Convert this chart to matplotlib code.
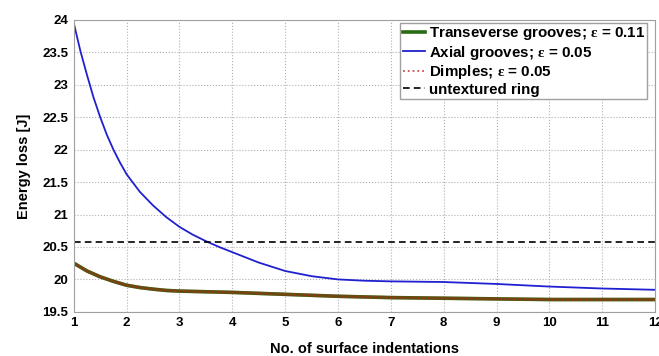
import numpy as np
import matplotlib.pyplot as plt

plt.rcParams['font.family'] = ['Liberation Sans', 'DejaVu Sans']
plt.rcParams['font.weight'] = 'bold'
plt.rcParams['mathtext.fontset'] = 'custom'
plt.rcParams['mathtext.rm'] = 'Liberation Serif'
plt.rcParams['mathtext.it'] = 'Liberation Serif'

# values
x_axial = [1, 1.125, 1.25, 1.375, 1.5, 1.625, 1.75, 1.875, 2, 2.25, 2.5, 2.75, 3, 3.25, 3.5, 3.75,
           4, 4.5, 5, 5.5, 6, 6.5, 7, 8, 9, 10, 11, 12]
e_axial = [23.95, 23.52, 23.15, 22.8, 22.5, 22.23, 22.0, 21.8, 21.62, 21.35, 21.14, 20.96, 20.81,
           20.69, 20.59, 20.50, 20.42, 20.26, 20.13, 20.05, 20.0, 19.98, 19.97, 19.96, 19.93,
           19.89, 19.86, 19.84]

x_trans = [1, 1.25, 1.5, 1.75, 2, 2.25, 2.5, 2.75, 3, 3.5, 4, 5, 6, 7, 8, 9, 10, 11, 12]
e_trans = [20.25, 20.13, 20.04, 19.97, 19.91, 19.875, 19.85, 19.83, 19.82, 19.81, 19.80, 19.77,
           19.74, 19.72, 19.71, 19.70, 19.69, 19.69, 19.69]
e_dimples = e_trans  # lies on top of the transverse curve
e_untextured = 20.58

fig = plt.figure(figsize=(6.59, 3.56), dpi=100)
ax = fig.add_axes([0.112, 0.124, 0.882, 0.82])

ax.plot(x_trans, e_trans, color='#2a6a12', lw=2.6,
        label='Transeverse grooves; $\\mathrm{\\varepsilon}$ = 0.11')
ax.plot(x_axial, e_axial, color='#2020d0', lw=1.3,
        label='Axial grooves; $\\mathrm{\\varepsilon}$ = 0.05')
ax.plot(x_trans, e_dimples, color='#c02020', lw=1.3, ls=':', alpha=0.8,
        label='Dimples; $\\mathrm{\\varepsilon}$ = 0.05')
ax.plot(x_trans, e_dimples, color='#a03010', lw=2.4, alpha=0.45)
ax.axhline(e_untextured, color='k', ls='--', lw=1.2, dashes=(4, 2.5), label='untextured ring')

ax.set_xlim(1, 12)
ax.set_ylim(19.5, 24)
ax.set_xticks(range(1, 13))
ax.set_yticks(np.arange(19.5, 24.01, 0.5))
ax.set_yticklabels(['19.5', '20', '20.5', '21', '21.5', '22', '22.5', '23', '23.5', '24'])
ax.tick_params(labelsize=9.5, length=0, pad=4)
ax.grid(True, ls=':', color='#b0b0b0', lw=0.8)
for s in ax.spines.values():
    s.set_color('#a0a0a0')

ax.set_xlabel('No. of surface indentations', fontsize=10.5, fontweight='bold', labelpad=9)
ax.set_ylabel('Energy loss [J]', fontsize=10.5, fontweight='bold', labelpad=8)

leg = ax.legend(loc='upper right', bbox_to_anchor=(0.986, 0.99), fontsize=10.9,
                handlelength=1.5, handletextpad=0.2, labelspacing=0.1, borderpad=0.15,
                borderaxespad=0, fancybox=False, framealpha=1)
leg.get_frame().set_edgecolor('#a0a0a0')

plt.savefig('out.png', dpi=100)
